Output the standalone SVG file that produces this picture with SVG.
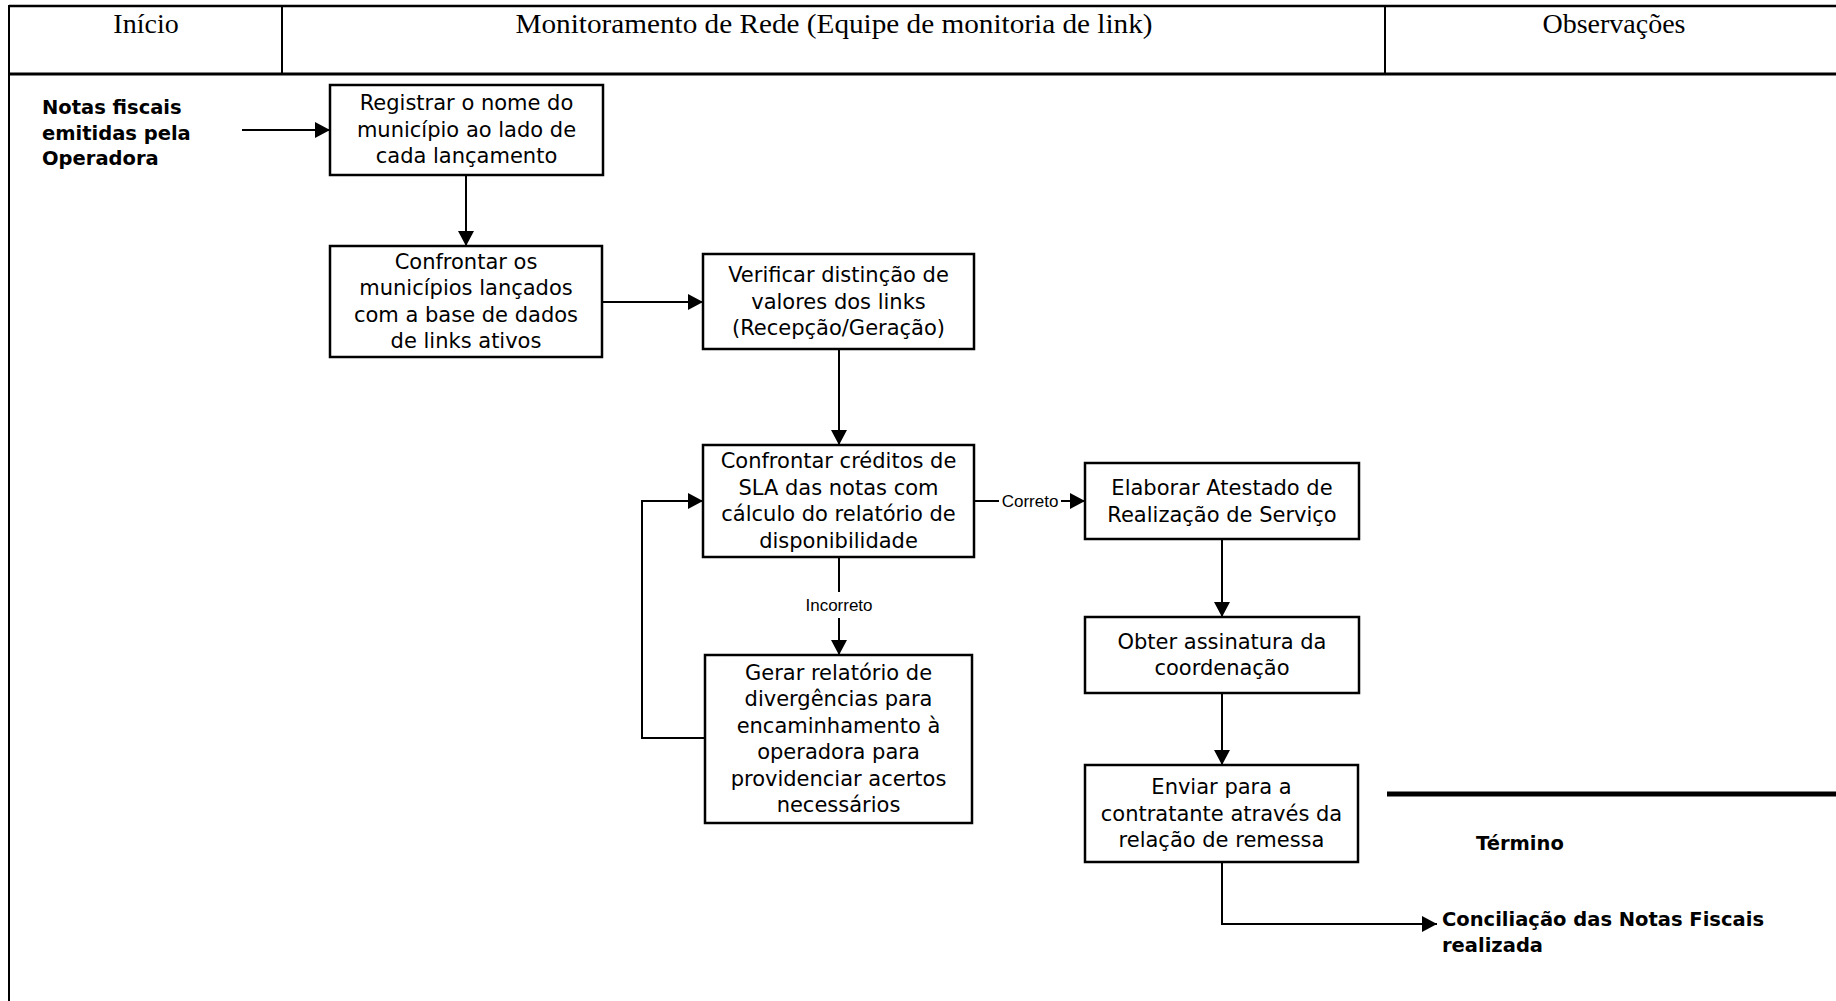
<svg xmlns="http://www.w3.org/2000/svg" width="1836" height="1001" viewBox="0 0 1836 1001">
  <defs>
    <marker id="arrow" markerUnits="userSpaceOnUse" markerWidth="15" markerHeight="16" refX="15" refY="8" orient="auto">
      <path d="M0,0 L15,8 L0,16 Z" fill="#000"/>
    </marker>
    <style>
      .frame { stroke: #000; fill: none; }
      .head { font-family: "Liberation Serif", "Times New Roman", serif; font-size: 28px; fill: #000; text-anchor: middle; }
      .box rect { fill: #fff; stroke: #000; stroke-width: 2.5; }
      .box text { font-family: "DejaVu Sans", "Century Gothic", sans-serif; font-size: 21px; fill: #000; text-anchor: middle; }
      .conn path { fill: none; stroke: #000; stroke-width: 2; }
      .arr { marker-end: url(#arrow); }
      .lbl { font-family: "Liberation Sans", Arial, sans-serif; font-size: 17px; fill: #000; text-anchor: middle; }
      .term { font-family: "DejaVu Sans", "Century Gothic", sans-serif; font-size: 19.5px; font-weight: bold; fill: #000; }
    </style>
  </defs>
  <rect width="1836" height="1001" fill="#fff"/>

  <!-- table frame and header row -->
  <g id="table">
    <line class="frame" x1="9" y1="6" x2="1836" y2="6" stroke-width="2.5"/>
    <line class="frame" x1="9" y1="5" x2="9" y2="1001" stroke-width="2"/>
    <line class="frame" x1="9" y1="74" x2="1836" y2="74" stroke-width="3"/>
    <line class="frame" x1="282" y1="6" x2="282" y2="74" stroke-width="2"/>
    <line class="frame" x1="1385" y1="6" x2="1385" y2="74" stroke-width="2"/>
    <text class="head" x="146" y="33">Início</text>
    <text class="head" x="834" y="33" textLength="637" lengthAdjust="spacingAndGlyphs">Monitoramento de Rede (Equipe de monitoria de link)</text>
    <text class="head" x="1614" y="33">Observações</text>
  </g>

  <!-- start / end labels -->
  <g id="inicio">
    <text class="term" x="42" y="114">Notas fiscais</text>
    <text class="term" x="42" y="140">emitidas pela</text>
    <text class="term" x="42" y="165">Operadora</text>
  </g>
  <g id="termino">
    <line x1="1387" y1="794" x2="1836" y2="794" stroke="#000" stroke-width="5"/>
    <text class="term" x="1476" y="850">Término</text>
  </g>
  <g id="fim">
    <text class="term" x="1442" y="926">Conciliação das Notas Fiscais</text>
    <text class="term" x="1442" y="952">realizada</text>
  </g>

  <!-- connectors -->
  <g id="connectors" class="conn">
    <path class="arr" d="M242,130 H330"/>
    <path class="arr" d="M466,175 V246"/>
    <path class="arr" d="M602,302 H703"/>
    <path class="arr" d="M839,349 V445"/>
    <path d="M974,501 H999"/>
    <path class="arr" d="M1061,501 H1085"/>
    <path d="M839,557 V592"/>
    <path class="arr" d="M839,618 V655"/>
    <path class="arr" d="M705,738 H642 V501 H703"/>
    <path class="arr" d="M1222,539 V617"/>
    <path class="arr" d="M1222,693 V765"/>
    <path class="arr" d="M1222,862 V924 H1437"/>
    <text class="lbl" x="1030" y="507">Correto</text>
    <text class="lbl" x="839" y="611">Incorreto</text>
  </g>

  <!-- process steps -->
  <g id="registrar" class="box">
    <rect x="330" y="85" width="273" height="90"/>
    <text x="466.5" y="110">Registrar o nome do</text>
    <text x="466.5" y="137">município ao lado de</text>
    <text x="466.5" y="163">cada lançamento</text>
  </g>
  <g id="confrontar-municipios" class="box">
    <rect x="330" y="246" width="272" height="111"/>
    <text x="466" y="268.5">Confrontar os</text>
    <text x="466" y="295">municípios lançados</text>
    <text x="466" y="321.5">com a base de dados</text>
    <text x="466" y="348">de links ativos</text>
  </g>
  <g id="verificar" class="box">
    <rect x="703" y="254" width="271" height="95"/>
    <text x="838.5" y="282">Verificar distinção de</text>
    <text x="838.5" y="308.5">valores dos links</text>
    <text x="838.5" y="335">(Recepção/Geração)</text>
  </g>
  <g id="confrontar-creditos" class="box">
    <rect x="703" y="445" width="271" height="112"/>
    <text x="838.5" y="468">Confrontar créditos de</text>
    <text x="838.5" y="494.5">SLA das notas com</text>
    <text x="838.5" y="521">cálculo do relatório de</text>
    <text x="838.5" y="547.5">disponibilidade</text>
  </g>
  <g id="elaborar" class="box">
    <rect x="1085" y="463" width="274" height="76"/>
    <text x="1222" y="495">Elaborar Atestado de</text>
    <text x="1222" y="521.5">Realização de Serviço</text>
  </g>
  <g id="gerar-relatorio" class="box">
    <rect x="705" y="655" width="267" height="168"/>
    <text x="838.5" y="679.5">Gerar relatório de</text>
    <text x="838.5" y="706">divergências para</text>
    <text x="838.5" y="732.5">encaminhamento à</text>
    <text x="838.5" y="759">operadora para</text>
    <text x="838.5" y="785.5">providenciar acertos</text>
    <text x="838.5" y="812">necessários</text>
  </g>
  <g id="obter-assinatura" class="box">
    <rect x="1085" y="617" width="274" height="76"/>
    <text x="1222" y="648.5">Obter assinatura da</text>
    <text x="1222" y="675">coordenação</text>
  </g>
  <g id="enviar" class="box">
    <rect x="1085" y="765" width="273" height="97"/>
    <text x="1221.5" y="794">Enviar para a</text>
    <text x="1221.5" y="820.5">contratante através da</text>
    <text x="1221.5" y="847">relação de remessa</text>
  </g>
</svg>
